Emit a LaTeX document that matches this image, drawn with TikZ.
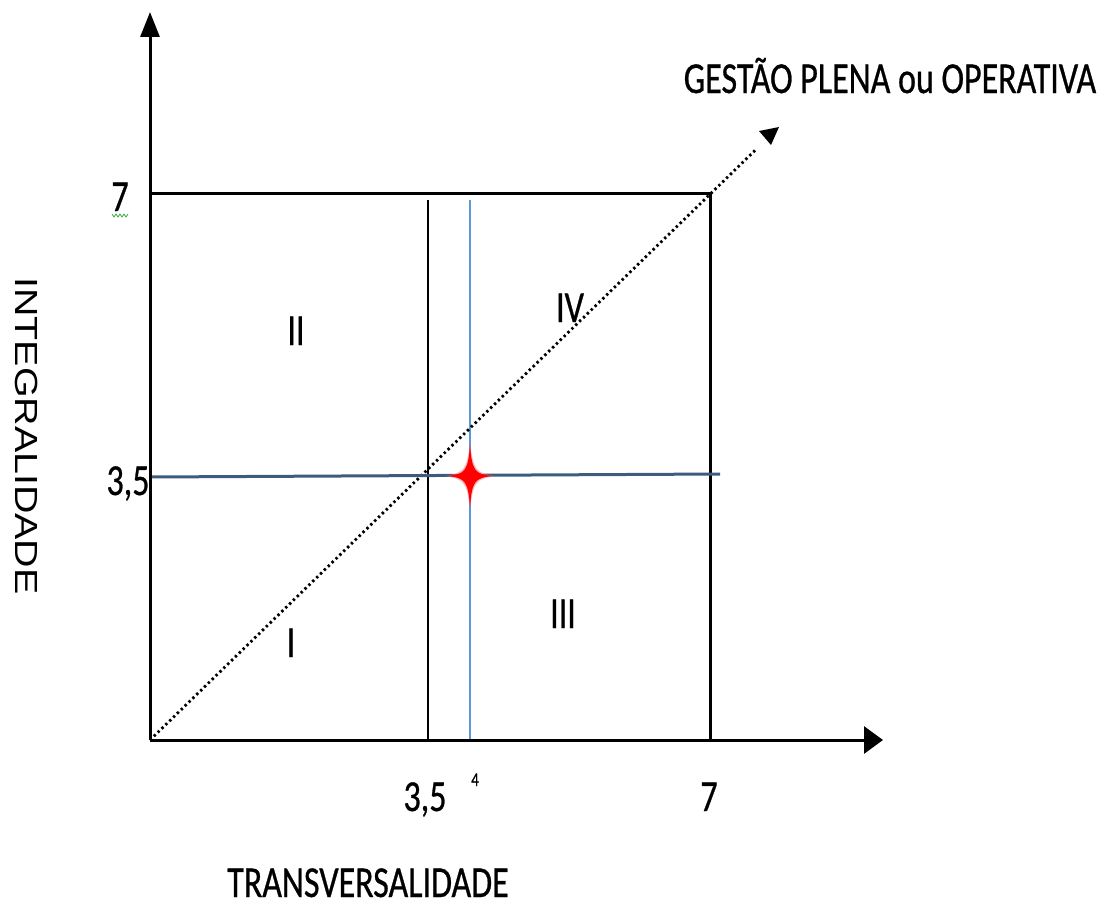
\documentclass[tikz,border=0pt]{standalone}
\usepackage{fontspec}
\setmainfont[FakeBold=0.8]{Carlito}
\newfontfamily\arialf{Liberation Sans}
\usetikzlibrary{arrows.meta,calc}
\definecolor{hline}{RGB}{60,92,125}
\definecolor{vblue}{RGB}{91,155,213}
\definecolor{squig}{RGB}{60,170,60}
\newcommand{\tall}[1]{\scalebox{1}[1.3]{#1}}
\begin{document}
\begin{tikzpicture}[x=1pt,y=-1pt,
  lbl/.style={inner sep=0pt, anchor=base, font=\fontsize{34}{40}\selectfont},
  small/.style={inner sep=0pt, anchor=base, font=\fontsize{15}{18}\selectfont},
  frame/.style={line width=3pt, line cap=rect},
  axisline/.style={line width=3pt},
  diag/.style={line width=2.8pt, dash pattern=on 2.4pt off 3pt},
  ]
\useasboundingbox (0,0) rectangle (1115,907);
% coordinates
\coordinate (O) at (150,740);
\coordinate (ytip) at (150,12);
\coordinate (xtip) at (883,740);
\coordinate (TL) at (150,193);
\coordinate (TR) at (710,193);
\coordinate (BR) at (710,740);
\coordinate (mTop) at (428,200);
\coordinate (mBot) at (428,740);
\coordinate (bTop) at (470,200);
\coordinate (bBot) at (470,740);
\coordinate (hL) at (150,477);
\coordinate (hR) at (720,474);
\coordinate (dtip) at (779,127);
\coordinate (S) at (470,476);
% box
\draw[frame] (TL) -- (TR) -- (BR);
\draw[line width=2.4pt] (mTop) -- (mBot);
\draw[vblue, line width=1.1pt] (bTop) -- (bBot);
% diagonal
\draw[diag] (O) -- ($(O)!0.965!(dtip)$);
\fill (dtip) -- ++(-20,4) -- ++(12,14) -- cycle;
% horizontal
\draw[hline, line width=3pt] (hL) -- (hR);
% axes
\draw[axisline, -{Triangle[length=25pt,width=19pt]}] (O) -- (ytip);
\draw[axisline, -{Triangle[length=19pt,width=27pt]}] (O) -- (xtip);
% star
\begin{scope}[shift={(S)}]
\fill[red!60, opacity=0.5] (0,-34) .. controls (3,-6) and (6,-3) .. (25,0)
  .. controls (6,3) and (3,6) .. (0,34)
  .. controls (-3,6) and (-6,3) .. (-25,0)
  .. controls (-6,-3) and (-3,-6) .. (0,-34) -- cycle;
\fill[red] (0,-31) .. controls (2,-5) and (5,-2) .. (22,0)
  .. controls (5,2) and (2,5) .. (0,31)
  .. controls (-2,5) and (-5,2) .. (-22,0)
  .. controls (-5,-2) and (-2,-5) .. (0,-31) -- cycle;
\end{scope}
% labels
\node[lbl] (t7) at (120,211) {\tall{7}};
\draw[squig, line width=0.7pt] (112,214) -- (114,217) -- (116,214) -- (118,217) -- (120,214) -- (122,217) -- (124,214) -- (126,217) -- (128,214);
\node[lbl] (l35) at (128,495) {\tall{3,5}};
\node[lbl] (b35) at (425,811) {\tall{3,5}};
\node[small] (b4) at (475,786) {\tall{4}};
\node[lbl] (b7) at (709,811) {\tall{7}};
\node[lbl] (xl) at (368,897) {\tall{TRANSVERSALIDADE}};
\node[lbl] (dl) at (890,93) {\tall{GESTÃO PLENA ou OPERATIVA}};
\node[inner sep=0pt, rotate=-90, font=\arialf\fontsize{32}{36}\selectfont] (yl) at (27,436) {\scalebox{1.23}[1]{INTEGRALIDADE}};
\node[lbl] (q2) at (296,345) {\tall{II}};
\node[lbl] (q4) at (570,322) {\tall{IV}};
\node[lbl] (q3) at (563,628) {\tall{III}};
\node[lbl] (q1) at (291,657) {\tall{I}};
\end{tikzpicture}
\end{document}
